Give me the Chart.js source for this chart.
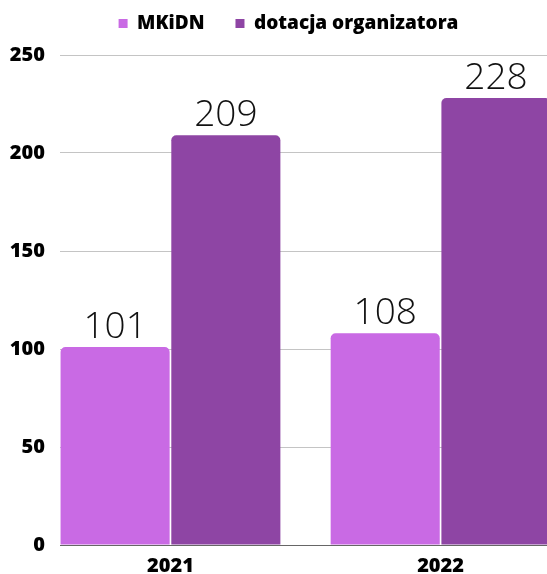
<!DOCTYPE html>
<html>
<head>
<meta charset="utf-8">
<script src="https://cdn.jsdelivr.net/npm/chart.js@4/dist/chart.umd.min.js"></script>
<style>
  html, body { margin: 0; padding: 0; background: #fff; overflow: hidden; }
  #wrap { width: 547px; height: 574px; }
</style>
</head>
<body>
<div id="wrap"><canvas id="chart" width="547" height="574"></canvas></div>
<script>
// Data
const years = ['2021', '2022'];
const mkidn = [101, 108];
const dotacja = [209, 228];
const seriesNames = ['MKiDN', 'dotacja organizatora'];
const yTicks = [0, 50, 100, 150, 200, 250];

// draws the value above each bar
const valueLabels = {
  id: 'valueLabels',
  afterDatasetsDraw(chart) {
    const ctx = chart.ctx;
    ctx.save();
    ctx.font = '300 37px "Open Sans"';
    ctx.fillStyle = '#111';
    ctx.textAlign = 'center';
    ctx.textBaseline = 'alphabetic';
    chart.data.datasets.forEach((ds, i) => {
      chart.getDatasetMeta(i).data.forEach((bar, j) => {
        ctx.fillText(String(ds.data[j].y), bar.x, bar.y - 9);
      });
    });
    ctx.restore();
  }
};

// nudge the legend: a bit right and up, like the original
const legendShift = {
  id: 'legendShift',
  afterLayout(chart) {
    const lg = chart.legend;
    const h = lg.bottom - lg.top;
    lg.left = 30;
    lg.top = -17;
    lg.bottom = lg.top + h;
  }
};

const toPoints = (values) => values.map((v, i) => ({ x: i, y: v }));

new Chart(document.getElementById('chart'), {
  type: 'bar',
  data: {
    datasets: [
      {
        label: seriesNames[0],
        data: toPoints(mkidn),
        backgroundColor: '#c96ae4',
        borderRadius: { topLeft: 5, topRight: 5 },
        borderSkipped: 'start',
      },
      {
        label: seriesNames[1],
        data: toPoints(dotacja),
        backgroundColor: '#8e45a4',
        borderRadius: { topLeft: 5, topRight: 5 },
        borderSkipped: 'start',
      },
    ],
  },
  options: {
    responsive: false,
    animation: false,
    categoryPercentage: 0.82,
    barPercentage: 0.985,
    layout: { padding: { left: 0, right: 0, top: -5, bottom: 0 } },
    plugins: {
      legend: {
        position: 'top',
        labels: {
          boxWidth: 9,
          boxHeight: 9,
          padding: 31,
          color: '#000',
          font: { family: 'Open Sans', size: 19, weight: 800, lineHeight: 0.6 },
        },
      },
      tooltip: { enabled: false },
    },
    scales: {
      x: {
        type: 'linear',
        offset: false,
        min: -0.409,
        max: 1.394,
        grid: { display: false, drawTicks: false, offset: false },
        border: { display: true, color: '#666' },
        afterBuildTicks: (scale) => {
          scale.ticks = years.map((_, i) => ({ value: i }));
        },
        afterFit: (scale) => {
          scale.height = 29;
        },
        ticks: {
          padding: 9,
          color: '#000',
          font: { family: 'Open Sans', size: 20, weight: 800 },
          callback: (v) => years[v],
        },
      },
      y: {
        min: 0,
        max: 250,
        afterBuildTicks: (scale) => {
          scale.ticks = yTicks.map((v) => ({ value: v }));
        },
        afterFit: (scale) => {
          scale.width = 60;
        },
        grid: {
          drawTicks: false,
          color: '#c4c4c4',
          lineWidth: 1,
        },
        border: { display: false },
        ticks: {
          padding: 15,
          color: '#000',
          font: { family: 'Open Sans', size: 20, weight: 800 },
        },
      },
    },
  },
  plugins: [valueLabels, legendShift],
});
</script>
</body>
</html>
